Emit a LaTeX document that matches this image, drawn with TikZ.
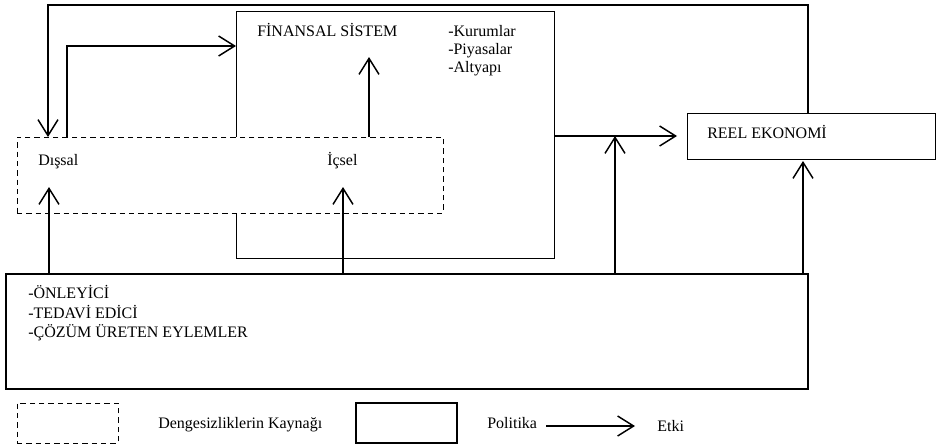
\documentclass[tikz,border=0pt]{standalone}
\usepackage{fontspec}
\setmainfont{Liberation Serif}
\usetikzlibrary{arrows.meta}
\begin{document}
\begin{tikzpicture}[x=0.75pt,y=-0.75pt,
  box/.style={draw,inner sep=0pt,outer sep=0pt,anchor=north west},
  dashbox/.style={box,dash pattern=on 4pt off 3pt,line width=0.75pt},
  lbl/.style={inner sep=0pt,anchor=base west,font=\fontsize{12}{14}\selectfont},
  arr/.style={line width=1.1pt,-{Straight Barb[length=12pt,width=15pt,line width=1.1pt]}}]
\useasboundingbox (0,0) rectangle (937,446);
% boxes
\node[box,line width=0.75pt,minimum width=238.5pt,minimum height=185.25pt] (fs) at (236,11) {};
\node[dashbox,fill=white,minimum width=319.5pt,minimum height=57pt] (dash) at (17,137) {};
\node[box,line width=0.75pt,minimum width=186pt,minimum height=34.5pt] (reel) at (687,113) {};
\node[box,line width=1.9pt,minimum width=601.5pt,minimum height=86.25pt] (pol) at (6,274) {};
% legend boxes
\node[dashbox,minimum width=75.75pt,minimum height=30pt] (lg1) at (17,403) {};
\node[box,line width=1.5pt,minimum width=75.75pt,minimum height=30pt] (lg2) at (356,403) {};
% texts
\node[lbl] (tfs) at (257,36) {FİNANSAL SİSTEM};
\node[lbl] (tk1) at (448,36) {-Kurumlar};
\node[lbl] (tk2) at (448,54) {-Piyasalar};
\node[lbl] (tk3) at (448,72) {-Altyapı};
\node[lbl] (tdis) at (38,165) {Dışsal};
\node[lbl] (tic) at (327,165) {İçsel};
\node[lbl] (treel) at (707,138) {REEL EKONOMİ};
\node[lbl] (tp1) at (28,298) {-ÖNLEYİCİ};
\node[lbl] (tp2) at (28,318) {-TEDAVİ EDİCİ};
\node[lbl] (tp3) at (28,337) {-ÇÖZÜM ÜRETEN EYLEMLER};
\node[lbl] (tlg1) at (158,428) {Dengesizliklerin Kaynağı};
\node[lbl] (tlg2) at (487,428) {Politika};
\node[lbl] (tlg3) at (657,431) {Etki};
% helper coordinates
\coordinate (cTopL) at (48,5);
\coordinate (cTopR) at (808,5);
\coordinate (cUp) at (67,46);
\coordinate (cFs) at (369,57);
\coordinate (cJx) at (615,0);
\coordinate (cRx) at (803,0);
\coordinate (cDis) at (49,187);
\coordinate (cIc) at (343,187);
\coordinate (la) at (546,426);
\coordinate (lb) at (635,426);
% connectors
\draw[arr] (reel.north -| cTopR) -- (cTopR) -- (cTopL) -- (dash.north -| cTopL);
\draw[arr] (dash.north -| cUp) -- (cUp) -- (fs.west |- cUp);
\draw[arr] (dash.north -| cFs) -- (cFs);
\draw[arr,shorten >=7.5pt] (fs.east |- reel.west) -- (reel.west);
\draw[arr] (pol.north -| cJx) -- (reel.west -| cJx);
\draw[arr,shorten >=1.5pt] (pol.north -| cRx) -- (reel.south -| cRx);
\draw[arr] (pol.north -| cDis) -- (cDis);
\draw[arr] (pol.north -| cIc) -- (cIc);
\draw[arr] (la) -- (lb);
\end{tikzpicture}
\end{document}
